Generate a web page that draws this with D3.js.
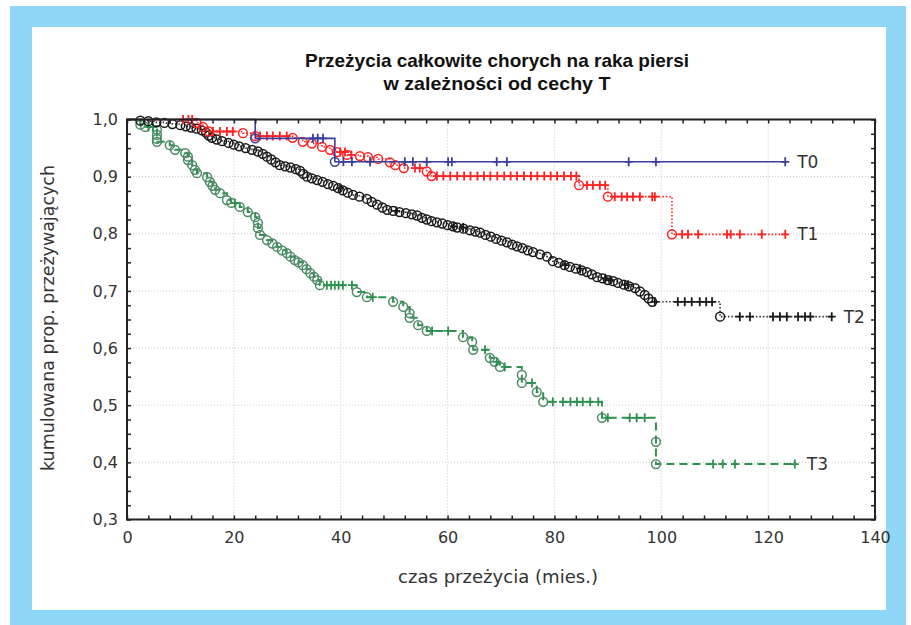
<!DOCTYPE html>
<html>
<head>
<meta charset="utf-8">
<script src="https://cdn.jsdelivr.net/npm/d3@7/dist/d3.min.js"></script>
<style>
  body { margin: 0; background: #fff; }
  svg { display: block; }
  text { font-family: "DejaVu Sans", sans-serif; fill: #333; }
</style>
</head>
<body>
<svg id="chart" width="911" height="625"></svg>
<script>
// Kaplan-Meier data: [months, cumulative survival] at each death,
// plus the months of censored cases (drawn as +)
var t0Events = [[24.0, 0.967], [38.9, 0.926]];
var t0Censored = [34.8, 35.7, 36.7, 40.5, 42.1, 45.5, 52.0, 53.5, 56.1, 60.1, 60.8, 69.2, 71.1, 93.9, 99.0, 123.2];

var t1Events = [[13.0, 0.994], [14.2, 0.987], [15.3, 0.979], [21.7, 0.976], [24.0, 0.971], [31.0, 0.968],
  [32.9, 0.961], [34.6, 0.958], [36.5, 0.952], [38.0, 0.947], [39.3, 0.943], [41.2, 0.938], [43.6, 0.936],
  [45.1, 0.934], [47.0, 0.931], [49.2, 0.925], [50.2, 0.920], [51.8, 0.915], [56.1, 0.909], [57.0, 0.901],
  [84.6, 0.885], [90.0, 0.865], [102.0, 0.799]];
var t1Censored = [10.5, 11.5, 12.2, 16.1, 17.4, 18.7, 19.8, 24.9, 26.2, 27.3, 28.6, 29.9, 39.9, 40.8, 42.0,
  53.9, 54.8, 58.0, 59.2, 60.5, 61.8, 63.1, 64.3, 65.6, 66.8, 68.0, 69.3, 70.6, 71.8, 73.0, 74.3, 75.6,
  76.8, 78.1, 79.3, 80.5, 81.8, 83.1, 84.1, 86.1, 87.2, 88.5, 89.5, 91.3, 92.6, 93.6, 94.7, 96.0, 98.3,
  98.8, 103.9, 105.0, 106.9, 112.3, 113.0, 114.7, 118.8, 123.2];

var t2Events = [[2.5, 0.998], [4.0, 0.997], [5.5, 0.995], [7.0, 0.994], [8.5, 0.992], [10.0, 0.990],
  [11.0, 0.988], [12.0, 0.986], [13.0, 0.984], [14.0, 0.981], [14.8, 0.977], [15.3, 0.972], [15.9, 0.968],
  [16.8, 0.965], [17.8, 0.962], [19.0, 0.959], [20.0, 0.956], [21.0, 0.953], [22.2, 0.950], [23.4, 0.947],
  [24.5, 0.944], [25.4, 0.940], [26.2, 0.935], [27.0, 0.930], [27.8, 0.925], [28.6, 0.920], [29.6, 0.918],
  [30.6, 0.916], [31.6, 0.913], [32.4, 0.910], [33.0, 0.905], [33.7, 0.900], [34.6, 0.897], [35.6, 0.894],
  [36.6, 0.891], [37.6, 0.887], [38.6, 0.884], [39.5, 0.880], [40.4, 0.876], [41.3, 0.872], [42.3, 0.868],
  [43.5, 0.865], [44.9, 0.861], [45.8, 0.856], [46.8, 0.851], [47.8, 0.846], [48.7, 0.842], [49.8, 0.840],
  [51.0, 0.838], [52.2, 0.836], [53.3, 0.834], [54.3, 0.832], [55.2, 0.828], [56.1, 0.825], [57.0, 0.822],
  [58.0, 0.820], [59.0, 0.818], [60.0, 0.815], [61.0, 0.813], [61.8, 0.811], [63.0, 0.809], [64.2, 0.806],
  [65.2, 0.804], [66.1, 0.802], [67.1, 0.798], [68.1, 0.795], [69.1, 0.791], [70.1, 0.788], [71.1, 0.785],
  [72.1, 0.781], [73.0, 0.778], [74.0, 0.775], [75.0, 0.771], [76.0, 0.768], [77.3, 0.764], [78.6, 0.760],
  [79.7, 0.752], [80.8, 0.749], [81.9, 0.745], [82.9, 0.742], [84.0, 0.739], [85.1, 0.736], [86.1, 0.733],
  [87.0, 0.729], [88.0, 0.724], [89.0, 0.722], [90.0, 0.719], [91.0, 0.717], [91.9, 0.714], [93.0, 0.711],
  [94.0, 0.708], [95.1, 0.705], [96.0, 0.699], [96.9, 0.693], [97.6, 0.687], [98.3, 0.681], [111.0, 0.655]];
var t2Censored = [39.9, 50.4, 61.2, 62.9, 82.0, 84.8, 89.5, 90.5, 93.2, 93.8, 98.8, 103.1, 104.4, 105.7,
  107.2, 108.4, 109.5, 114.7, 116.6, 120.9, 122.2, 123.5, 125.6, 126.9, 127.9, 131.9];

var t3Events = [[2.5, 0.991], [3.4, 0.987], [5.6, 0.982], [5.6, 0.973], [5.6, 0.966], [5.6, 0.961],
  [8.0, 0.955], [9.0, 0.947], [10.9, 0.941], [11.4, 0.935], [11.4, 0.929], [12.2, 0.920], [12.7, 0.912],
  [13.1, 0.906], [15.0, 0.899], [15.5, 0.891], [16.0, 0.884], [16.5, 0.877], [17.4, 0.871], [18.7, 0.859],
  [19.5, 0.854], [21.1, 0.847], [22.6, 0.838], [24.0, 0.829], [24.5, 0.819], [24.5, 0.810], [24.9, 0.798],
  [26.2, 0.789], [27.2, 0.783], [28.1, 0.777], [29.0, 0.771], [29.9, 0.766], [30.6, 0.760], [31.4, 0.754],
  [32.1, 0.750], [32.9, 0.745], [33.6, 0.738], [34.3, 0.731], [35.0, 0.725], [35.6, 0.719], [36.1, 0.710],
  [43.0, 0.698], [44.9, 0.689], [49.8, 0.681], [51.7, 0.672], [52.9, 0.661], [52.9, 0.653], [54.5, 0.640],
  [56.1, 0.630], [62.9, 0.619], [64.6, 0.611], [64.8, 0.597], [67.9, 0.583], [68.8, 0.576], [69.8, 0.567],
  [73.9, 0.553], [73.9, 0.539], [76.7, 0.523], [77.9, 0.506], [88.9, 0.478], [99.0, 0.436], [99.0, 0.397]];
var t3Censored = [4.0, 4.9, 20.2, 37.4, 38.2, 38.9, 39.6, 40.4, 42.1, 46.0, 57.1, 60.1, 67.0, 69.2, 70.7,
  75.8, 79.7, 81.6, 83.0, 84.2, 85.3, 86.7, 88.2, 90.0, 94.1, 95.4, 96.9, 109.7, 111.5, 113.8, 125.0];

var titleLines = ["Przeżycia całkowite chorych na raka piersi", "w zależności od cechy T"];
var xTitle = "czas przeżycia (mies.)";
var yTitle = "kumulowana prop. przeżywających";
var xTicks = [0, 20, 40, 60, 80, 100, 120, 140];
var yTicks = [0.3, 0.4, 0.5, 0.6, 0.7, 0.8, 0.9, 1.0];

var series = [
  { name: "T3", events: t3Events, censored: t3Censored, line: "#2f9150", mark: "#4f8a66", dash: "8,5", width: 2 },
  { name: "T2", events: t2Events, censored: t2Censored, line: "#333", mark: "#1a1a1a", dash: "1.5,2", width: 1.6 },
  { name: "T1", events: t1Events, censored: t1Censored, line: "#ff2020", mark: "#ff2020", dash: "1.5,2", width: 1.6 },
  { name: "T0", events: t0Events, censored: t0Censored, line: "#3a3f9c", mark: "#3a3f9c", dash: null, width: 1.6 }
];

var svg = d3.select("#chart");

// blue frame
svg.append("rect").attr("x", 10).attr("y", 6).attr("width", 896).attr("height", 619).attr("fill", "#8fd7f6");
svg.append("rect").attr("x", 32).attr("y", 27).attr("width", 854).attr("height", 583).attr("fill", "#fff");

var x = d3.scaleLinear().domain([0, 140]).range([127, 875]);
var y = d3.scaleLinear().domain([0.3, 1.0]).range([519.5, 119.5]);

var pl = d3.formatLocale({ decimal: ",", thousands: " ", grouping: [3], currency: ["", " zł"] });
var fmt = pl.format(".1f");

// grid
var grid = svg.append("g").attr("stroke", "#c9c9c9").attr("stroke-dasharray", "1,2");
grid.selectAll(".gx").data(xTicks.slice(1, -1)).enter().append("line")
  .attr("x1", function (d) { return x(d); }).attr("x2", function (d) { return x(d); })
  .attr("y1", y(1.0)).attr("y2", y(0.3));
grid.selectAll(".gy").data(yTicks.slice(1, -1)).enter().append("line")
  .attr("y1", function (d) { return y(d); }).attr("y2", function (d) { return y(d); })
  .attr("x1", x(0)).attr("x2", x(140));

// survival curves
function survivalAt(events, t) {
  var v = 1;
  events.forEach(function (e) { if (e[0] <= t) v = e[1]; });
  return v;
}

var line = d3.line()
  .x(function (d) { return x(d[0]); })
  .y(function (d) { return y(d[1]); })
  .curve(d3.curveStepAfter);

series.forEach(function (s) {
  var endT = d3.max(s.censored.concat(s.events.map(function (e) { return e[0]; })));
  var last = s.events[s.events.length - 1][1];
  var pts = [[0, 1]].concat(s.events).concat([[endT, last]]);
  var g = svg.append("g");

  g.append("path").datum(pts).attr("d", line)
    .attr("fill", "none").attr("stroke", s.line).attr("stroke-width", s.width)
    .attr("stroke-dasharray", s.dash);

  g.selectAll("circle").data(s.events).enter().append("circle")
    .attr("cx", function (d) { return x(d[0]); })
    .attr("cy", function (d) { return y(d[1]); })
    .attr("r", 4.4).attr("fill", "none").attr("stroke", s.mark).attr("stroke-width", 1.5);

  g.selectAll(".cens").data(s.censored).enter().append("path")
    .attr("transform", function (d) { return "translate(" + x(d) + "," + y(survivalAt(s.events, d)) + ")"; })
    .attr("d", "M-4,0H4M0,-4.5V4.5")
    .attr("stroke", s.line === "#333" ? "#1a1a1a" : s.line).attr("stroke-width", 1.8).attr("fill", "none");

  svg.append("text").attr("x", x(endT) + 12).attr("y", y(last) + 6)
    .style("font-size", "17px").text(s.name);
});

// frame and axes, ticks pointing inwards on all four sides
var xMinor = d3.range(0, 141, 4);
var yMinor = d3.range(0, 29).map(function (i) { return 0.3 + i * 0.025; });

function styleAxis(g) {
  g.select(".domain").remove();
  g.selectAll(".tick line").attr("stroke", "#222").attr("stroke-width", 1.5);
  g.selectAll("text").attr("fill", "#333").style("font-size", "16px")
    .style("font-family", "'DejaVu Sans', sans-serif");
}

svg.append("rect").attr("x", x(0)).attr("y", y(1.0))
  .attr("width", x(140) - x(0)).attr("height", y(0.3) - y(1.0))
  .attr("fill", "none").attr("stroke", "#222").attr("stroke-width", 2);

svg.append("g").attr("transform", "translate(0," + y(0.3) + ")")
  .call(d3.axisBottom(x).tickValues(xMinor).tickSize(-4).tickFormat(function (d) { return xTicks.indexOf(d) >= 0 ? d : ""; }).tickPadding(12))
  .call(styleAxis);
svg.append("g").attr("transform", "translate(0," + y(1.0) + ")")
  .call(d3.axisTop(x).tickValues(xMinor).tickSize(-4).tickFormat(""))
  .call(styleAxis);
svg.append("g").attr("transform", "translate(" + x(0) + ",0)")
  .call(d3.axisLeft(y).tickValues(yMinor).tickSize(-4).tickPadding(9).tickFormat(function (d) {
    var k = Math.round(d * 1000);
    return k % 100 === 0 ? fmt(d) : "";
  }))
  .call(styleAxis);
svg.append("g").attr("transform", "translate(" + x(140) + ",0)")
  .call(d3.axisRight(y).tickValues(yMinor).tickSize(-4).tickFormat(""))
  .call(styleAxis);

// titles
svg.append("g").selectAll("text").data(titleLines).enter().append("text")
  .attr("x", 497).attr("y", function (d, i) { return 67 + i * 23; })
  .attr("text-anchor", "middle")
  .attr("textLength", function (d, i) { return i === 0 ? 384 : 227; })
  .attr("lengthAdjust", "spacingAndGlyphs")
  .style("font-family", "'Liberation Sans Narrow', 'Liberation Sans', sans-serif")
  .style("font-size", "19px").style("font-weight", "bold").style("fill", "#111")
  .text(function (d) { return d; });

svg.append("text").attr("x", 498).attr("y", 583).attr("text-anchor", "middle")
  .attr("textLength", 200).attr("lengthAdjust", "spacingAndGlyphs")
  .style("font-size", "17px").text(xTitle);

svg.append("text").attr("transform", "translate(54,318) rotate(-90)").attr("text-anchor", "middle")
  .attr("textLength", 306).attr("lengthAdjust", "spacingAndGlyphs")
  .style("font-size", "17px").text(yTitle);
</script>
</body>
</html>
